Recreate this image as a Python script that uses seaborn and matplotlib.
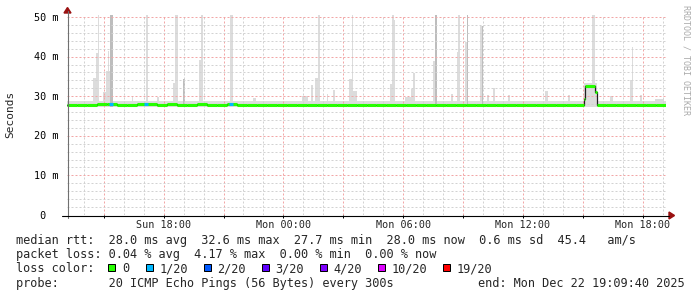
import numpy as np
import pandas as pd
import matplotlib
matplotlib.use("Agg")
import matplotlib.pyplot as plt
import seaborn as sns
from matplotlib.lines import Line2D
from matplotlib.patches import Polygon, Rectangle
from matplotlib.transforms import IdentityTransform

# ---------------- data ----------------
start = pd.Timestamp("2025-12-21 13:09:40")
end = pd.Timestamp("2025-12-22 19:09:40")

# median rtt (ms), step series: hours since start -> value
med_t = [0.0, 0.5, 1.0, 1.5, 2.0, 2.5, 3.0, 3.5, 4.0, 4.5, 5.0, 5.5, 6.0, 6.5,
         7.0, 7.5, 8.0, 8.5, 9.0, 9.5, 10.0, 10.5, 11.0, 11.5, 12.0, 12.5, 13.0,
         13.5, 14.0, 14.5, 15.0, 15.5, 16.0, 16.5, 17.0, 17.5, 18.0, 18.5, 19.0,
         19.5, 20.0, 20.5, 21.0, 21.5, 22.0, 22.5, 23.0, 23.5, 24.0, 24.5, 25.0,
         25.5, 25.875, 25.925, 26.44, 26.525, 27.0, 27.5, 28.0, 28.5, 29.0, 29.5]
med_v = [27.9, 27.9, 27.8, 28.0, 28.0, 27.9, 27.9, 28.0, 28.0, 27.9, 28.0, 27.9,
         27.9, 28.0, 27.9, 27.9, 28.0, 27.9, 27.9, 27.8, 27.9, 27.9, 27.7, 27.7,
         27.8, 27.9, 27.8, 27.9, 27.9, 27.8, 27.9, 27.8, 27.9, 27.8, 27.9, 27.8,
         27.9, 27.8, 27.8, 27.9, 27.8, 27.9, 27.9, 27.9, 27.9, 27.9, 27.9, 27.9,
         27.8, 27.9, 27.9, 27.9, 29.4, 32.5, 31.1, 27.9, 27.9, 27.8, 27.9, 27.9,
         27.9, 27.9]

# packet loss episodes (hours since start)
loss_t0 = [2.09, 3.84, 8.09]
loss_t1 = [2.29, 4.04, 8.29]
loss_lvl = ["1/20", "1/20", "1/20"]

# smoke: baseline band + individual spikes
smoke_lo = 27.2
smoke_hi = 28.7
sp_t0 = [1.325, 1.44, 1.54, 1.79, 1.94, 2.04, 2.09, 2.175, 3.24, 3.94, 4.49, 5.325,
         5.425, 5.79, 6.59, 6.69, 8.155, 9.325, 11.79, 12.24, 12.425, 12.575, 13.04,
         13.325, 14.14, 14.275, 14.34, 16.155, 16.29, 16.325, 16.94, 17.24, 17.325,
         18.325, 18.425, 19.24, 19.525, 19.59, 19.925, 20.025, 20.69, 20.79, 21.025,
         21.325, 22.075, 23.955, 25.075, 25.875, 26.29, 27.19, 28.19, 28.275, 28.69,
         29.44]
sp_t1 = [1.44, 1.54, 1.59, 1.94, 2.04, 2.09, 2.19, 2.29, 3.33, 4.04, 4.59, 5.525,
         5.54, 5.925, 6.79, 6.79, 8.29, 9.49, 12.075, 12.325, 12.59, 12.69, 13.09,
         13.425, 14.29, 14.34, 14.525, 16.29, 16.355, 16.44, 17.24, 17.34, 17.44,
         18.44, 18.54, 19.34, 19.605, 19.69, 20.04, 20.09, 20.825, 20.84, 21.155,
         21.425, 22.19, 24.075, 25.19, 26.54, 26.44, 27.325, 28.325, 28.34, 28.805,
         29.89]
sp_top = [34.5, 41.0, 50.5, 31.0, 36.4, 41.5, 36.4, 50.5, 30.0, 50.5, 29.8, 33.4,
          50.5, 34.3, 39.1, 50.5, 50.5, 29.6, 30.0, 32.8, 34.5, 50.5, 30.5,
          31.6, 34.3, 50.5, 31.3, 33.0, 50.5, 49.2, 29.8, 31.7, 35.8,
          39.0, 50.5, 30.5, 41.2, 50.5, 43.8, 50.5, 47.6, 47.6, 30.3,
          32.0, 30.3, 31.3, 30.4, 33.4, 50.5, 30.0, 34.1, 42.5, 30.3,
          29.3]
sp_shade = ["l", "l", "l", "l", "l", "l", "l", "m", "l", "l", "l", "l",
            "l", "m", "l", "l", "l", "l", "l", "l", "l", "l", "l",
            "l", "l", "l", "l", "l", "l", "l", "l", "l", "l",
            "l", "m", "l", "l", "l", "l", "m", "l", "m", "l",
            "l", "l", "l", "l", "l", "l", "l", "l", "l", "l",
            "l"]

y_ticks = [0, 10, 20, 30, 40, 50]
y_labels = [" 0  ", "10 m", "20 m", "30 m", "40 m", "50 m"]

loss_names = ["0", "1/20", "2/20", "3/20", "4/20", "10/20", "19/20"]
loss_colors = ["#26ff00", "#00b8ff", "#0059ff", "#5e00ff", "#7e00ff", "#dd00ff", "#ff0000"]

stats_rtt = "median rtt:  28.0 ms avg  32.6 ms max  27.7 ms min  28.0 ms now  0.6 ms sd  45.4   am/s"
stats_loss = "packet loss: 0.04 % avg  4.17 % max  0.00 % min  0.00 % now"
probe_txt = "probe:       20 ICMP Echo Pings (56 Bytes) every 300s"
end_txt = "end: Mon Dec 22 19:09:40 2025"

# ---------------- figure ----------------
sns.set_style("white")
MONO = ["DejaVu Sans Mono"]
plt.rcParams["font.family"] = MONO

W, H = 697, 297
fig = plt.figure(figsize=(W / 100, H / 100), dpi=100)
fig.patch.set_facecolor("white")
ax = fig.add_axes([67 / W, (H - 215) / H, (666 - 67) / W, (215 - 15) / H])
span = (end - start) / pd.Timedelta(hours=1)
ax.set_xlim(0, span)
ax.set_ylim(0, 50.5)
for s in ax.spines.values():
    s.set_visible(False)

# smoke
ax.fill_between([0, span], smoke_lo, smoke_hi, color="#dddddd", lw=0, zorder=1)
shade_col = {"l": "#dcdcdc", "m": "#bdbdbd"}
for shade in ["l", "m"]:
    idx = [i for i, s in enumerate(sp_shade) if s == shade]
    ax.bar([sp_t0[i] for i in idx],
           [sp_top[i] - smoke_lo for i in idx],
           width=[sp_t1[i] - sp_t0[i] for i in idx],
           bottom=smoke_lo, align="edge", color=shade_col[shade], lw=0, zorder=1.2)

# median: thin dark step line then thick loss-colored segments
mt = list(med_t) + [span]
mv = list(med_v) + [med_v[-1]]
df = pd.DataFrame({"t": mt, "v": mv})
sns.lineplot(data=df, x="t", y="v", ax=ax, estimator=None, drawstyle="steps-post",
             color="#202020", lw=0.9, zorder=3)
ax.hlines(med_v, med_t, mt[1:], colors=loss_colors[0], lw=2.2, zorder=3.5)
lc = dict(zip(loss_names, loss_colors))
for a, b, lv in zip(loss_t0, loss_t1, loss_lvl):
    i = int(np.searchsorted(med_t, a, side="right")) - 1
    ax.hlines(med_v[i], a, b, colors=lc[lv], lw=2.2, zorder=3.6)
ax.set_xlabel("")
ax.set_ylabel("")

# grid / ticks
hrs3 = pd.date_range("2025-12-21 15:00", "2025-12-22 18:00", freq="3h")
hrs1 = pd.date_range("2025-12-21 14:00", "2025-12-22 19:00", freq="1h")
maj = [(t - start) / pd.Timedelta(hours=1) for t in hrs3]
mnr = [(t - start) / pd.Timedelta(hours=1) for t in hrs1]
maj_lab = [t.strftime("%a %H:%M") if t.hour % 6 == 0 else "" for t in hrs3]
ax.set_xticks(maj)
ax.set_xticklabels(maj_lab)
ax.set_xticks(mnr, minor=True)
ax.set_yticks(y_ticks)
ax.set_yticks(np.arange(0, 51, 2), minor=True)
ax.set_axisbelow(False)
ax.grid(which="major", color="#f2a6a6", linestyle=(0, (2, 2)), lw=0.72)
ax.grid(which="minor", color="#d2d2d2", linestyle=(0, (2, 2)), lw=0.72)
ax.tick_params(axis="x", which="major", length=2.3, width=0.72, color="black",
               direction="out", pad=1.6, labelsize=7.3, bottom=True)
ax.tick_params(axis="x", which="minor", length=0)
ax.tick_params(axis="y", which="both", length=0, labelleft=False)
for lab in ax.get_xticklabels():
    lab.set_family(MONO)

for v, lab in zip(y_ticks, y_labels):
    ax.annotate(lab, xy=(0, v), xycoords=ax.get_yaxis_transform(),
                xytext=(-(67 - 34.5) * 0.72, -3.6 * 0.72), textcoords="offset points",
                ha="left", va="baseline", fontsize=7.3, family=MONO, color="black",
                annotation_clip=False)

# axis lines and arrows (pixel space)
ID = IdentityTransform()
def P(x, y):
    return (x, H - y)
fig.add_artist(Line2D([67.5, 67.5], [H - 218, H - 11], color="#707070", lw=0.8, transform=ID))
fig.add_artist(Line2D([62, 669], [H - 215.5, H - 215.5], color="black", lw=0.8, transform=ID))
fig.add_artist(Polygon([P(64, 13), P(71, 13), P(67.5, 7.5)], closed=True,
                       color="#9a1010", transform=ID))
fig.add_artist(Polygon([P(669, 212), P(669, 219), P(674.5, 215.5)], closed=True,
                       color="#9a1010", transform=ID))

# texts
fig.text(10.5 / W, 1 - 114 / H, "Seconds", rotation=90, ha="center", va="center",
         fontsize=8, family=MONO)
fig.text(686 / W, 1 - 5 / H, "RRDTOOL / TOBI OETIKER", rotation=270, ha="center",
         va="top", fontsize=6, family=MONO, color="#aaaaaa")

FS = 8.55
def row(x, yb, s):
    fig.text(x / W, 1 - yb / H, s, ha="left", va="baseline", fontsize=FS, family=MONO)

row(15.5, 243.7, stats_rtt)
row(15.5, 258.1, stats_loss)
row(15.5, 272.5, "loss color:")
box_x = [108, 146, 204, 261.7, 320, 377.7, 442.7]
lab_x = [122.5, 159.5, 217.5, 275, 333.5, 392, 456.5]
for bx, tx, nm, col in zip(box_x, lab_x, loss_names, loss_colors):
    fig.add_artist(Rectangle(P(bx, 270.5), 7, 7, facecolor=col, edgecolor="black",
                             lw=0.72, transform=ID))
    row(tx, 272.5, nm)
row(15.5, 286.9, probe_txt)
row(477.5, 286.9, end_txt)

fig.savefig("out.png", dpi=100, facecolor="white")
